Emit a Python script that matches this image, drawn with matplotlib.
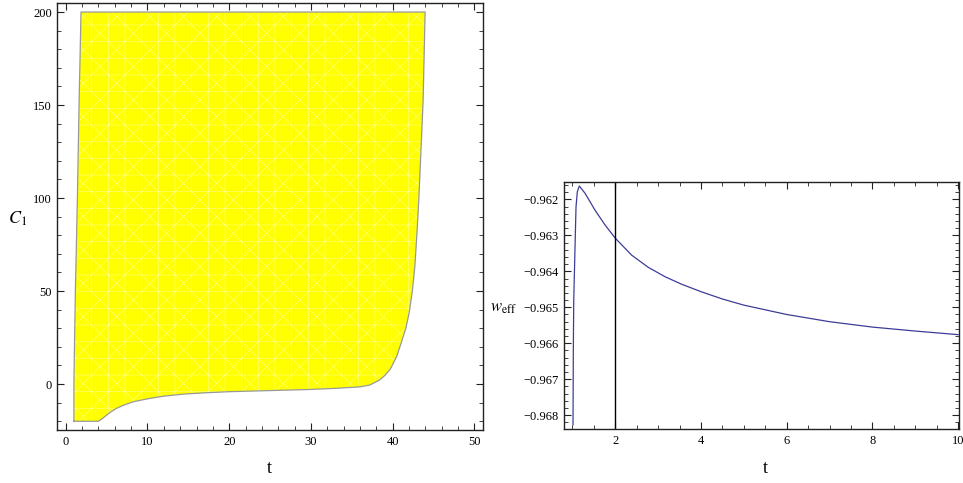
import numpy as np
import matplotlib.pyplot as plt
from matplotlib.ticker import MultipleLocator

plt.rcParams['font.family'] = ['Liberation Serif', 'DejaVu Serif']
plt.rcParams['mathtext.fontset'] = 'stix'
plt.rcParams['hatch.linewidth'] = 0.35

# allowed region (left panel): boundary
left_t = [1.0, 1.0, 1.18, 1.43, 1.63, 1.87]
left_c = [-20, 0, 50, 100, 150, 200]
right_t = [43.96, 43.72, 43.45, 43.2, 42.95, 42.7, 42.4, 42.0, 41.6, 41.1, 40.5,
           39.7, 39.0, 38.4, 37.2, 36.0, 33.0, 30.0, 25.0, 20.0, 17.0, 14.4,
           12.0, 10.3, 8.27, 7.0, 6.2, 5.5, 5.0, 4.5, 4.0]
right_c = [200, 152.7, 125, 100, 80, 63, 50, 38, 30, 23, 15,
           8, 4.5, 2.2, -0.5, -1.5, -2.3, -2.9, -3.5, -4.1, -4.7, -5.4,
           -6.5, -7.7, -9.5, -11.5, -13.1, -15, -16.7, -18.5, -20]

# w_eff(t) (right panel)
w_t = [1.013, 1.02, 1.03, 1.06, 1.083, 1.113, 1.16, 1.293, 1.526, 1.759, 2.0,
       2.38, 2.77, 3.16, 3.55, 4.01, 4.5, 5.0, 6.0, 7.0, 8.0, 9.0, 10.0]
w_val = [-0.96827, -0.9662, -0.9648, -0.96332, -0.96221, -0.96179, -0.96163,
         -0.96183, -0.96230, -0.96271, -0.96308, -0.96355, -0.96389, -0.96415,
         -0.96436, -0.96457, -0.96477, -0.96494, -0.96520, -0.96540, -0.96555,
         -0.96566, -0.96576]

fig = plt.figure(figsize=(9.63, 4.83), dpi=100)
ax1 = fig.add_axes([0.0595, 0.1097, 0.4417, 0.8831])
ax2 = fig.add_axes([0.586, 0.1112, 0.4098, 0.5126])

# left: region plot
poly_t = left_t + right_t
poly_c = left_c + right_c
ax1.fill(poly_t, poly_c, facecolor='#ffff00', edgecolor='#ffff9a', lw=0, hatch='+x')
ax1.plot(poly_t + [poly_t[0]], poly_c + [poly_c[0]], color='#999999', lw=0.9)
ax1.set_xlim(-1.03, 51.0)
ax1.set_ylim(-24.7, 204.6)
ax1.xaxis.set_major_locator(MultipleLocator(10))
ax1.xaxis.set_minor_locator(MultipleLocator(2))
ax1.yaxis.set_major_locator(MultipleLocator(50))
ax1.yaxis.set_minor_locator(MultipleLocator(10))

# right: w_eff curve
ax2.plot(w_t, w_val, color='#3d3d99', lw=0.9)
ax2.axvline(2, color='black', lw=1)
ax2.set_xlim(0.81, 10.02)
ax2.set_ylim(-0.96839, -0.96151)
ax2.xaxis.set_major_locator(MultipleLocator(2))
ax2.xaxis.set_minor_locator(MultipleLocator(0.5))
ax2.yaxis.set_major_locator(MultipleLocator(0.001))
ax2.yaxis.set_minor_locator(MultipleLocator(0.0002))
ax2.yaxis.set_major_formatter(plt.FuncFormatter(lambda v, p: f'{v:.3f}'.replace('-', '\u2212')))

for ax in (ax1, ax2):
    for s in ax.spines.values():
        s.set_color('#222222')
        s.set_linewidth(1.0)
    ax.tick_params(which='both', direction='in', top=True, right=True,
                   labelsize=9, color='#222222', pad=4)
    ax.tick_params(which='major', length=5, width=0.8)
    ax.tick_params(which='minor', length=3, width=0.6)

fig.text(0.280, 0.03, 't', fontsize=13, ha='center', va='center')
fig.text(0.795, 0.03, 't', fontsize=13, ha='center', va='center')
fig.text(0.018, 0.548, r'$C_1$', fontsize=13, ha='center', va='center')
fig.text(0.523, 0.362, r'$w_{\mathrm{eff}}$', fontsize=12, ha='center', va='center')

fig.savefig('out.png', dpi=100)
